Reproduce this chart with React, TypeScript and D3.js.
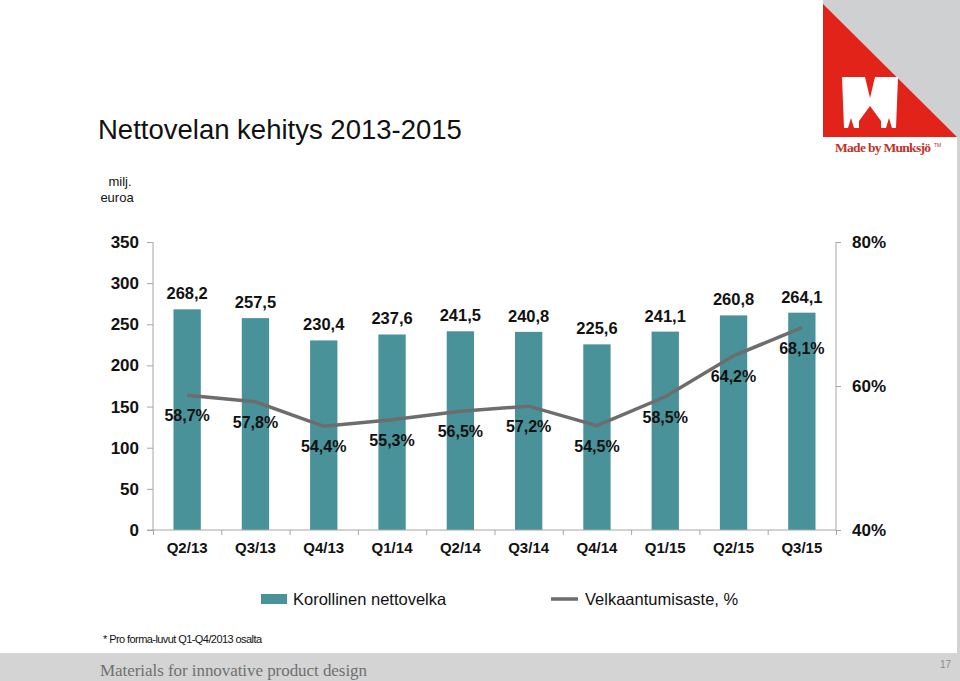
import React, { useEffect, useRef } from "react";
import * as d3 from "d3";

// quarters on the x-axis
const categories = ["Q2/13", "Q3/13", "Q4/13", "Q1/14", "Q2/14", "Q3/14", "Q4/14", "Q1/15", "Q2/15", "Q3/15"];
// Korollinen nettovelka, milj. euroa
const netDebt = [268.2, 257.5, 230.4, 237.6, 241.5, 240.8, 225.6, 241.1, 260.8, 264.1];
// Velkaantumisaste, %
const gearing = [58.7, 57.8, 54.4, 55.3, 56.5, 57.2, 54.5, 58.5, 64.2, 68.1];

const leftTicks = [0, 50, 100, 150, 200, 250, 300, 350];
const rightTicks = [40, 60, 80];

const fmt = (v: number) => v.toFixed(1).replace(".", ",");

export default function App() {
  const svgRef = useRef<SVGSVGElement>(null);

  useEffect(() => {
    if (!svgRef.current) return;
    const svg = d3.select(svgRef.current);
    svg.selectAll("*").remove();

    const width = 960;
    const height = 681;
    const left = 153;
    const right = 836;
    const top = 242;
    const bottom = 530;
    const font = "'Liberation Sans', Arial, sans-serif";
    const teal = "#4a9299";
    const lineGray = "#6d6d6d";
    const axisGray = "#a6a6a6";

    svg.attr("width", width).attr("height", height);

    svg.append("rect").attr("width", width).attr("height", height).style("fill", "#fff");

    // right edge strip and footer band
    svg.append("rect").attr("x", 957).attr("y", 0).attr("width", 3).attr("height", height).style("fill", "#d3d3d3");
    svg.append("rect").attr("x", 0).attr("y", 653).attr("width", width).attr("height", 28).style("fill", "#d4d4d4");
    svg
      .append("text")
      .attr("x", 100)
      .attr("y", 676)
      .attr("textLength", 267)
      .text("Materials for innovative product design")
      .style("font-family", "'Liberation Serif', 'DejaVu Serif', serif")
      .style("font-size", "17px")
      .style("fill", "#707070");
    svg
      .append("text")
      .attr("x", 951)
      .attr("y", 668)
      .attr("text-anchor", "end")
      .text("17")
      .style("font-family", font)
      .style("font-size", "10px")
      .style("fill", "#8a8a8a");

    // logo
    svg.append("rect").attr("x", 823).attr("y", 0).attr("width", 137).attr("height", 137).style("fill", "#cfd0d2");
    svg.append("path").attr("d", "M823,4 L823,137 L957,137 Z").style("fill", "#e2231a");
    svg.append("rect").attr("x", 823).attr("y", 137).attr("width", 134).attr("height", 24).style("fill", "#fff");
    svg
      .append("path")
      .attr(
        "d",
        "M842,77 L865,77 L870,98 L875,77 L898,77 L896,128 L881,128 L881,121 L870,106 L859,121 L859,128 L844,128 Z " +
          "M848,128 L851,118 L854,128 Z M886,128 L889,118 L892,128 Z"
      )
      .attr("fill-rule", "evenodd")
      .style("fill", "#fff");
    svg
      .append("text")
      .attr("x", 835)
      .attr("y", 152)
      .attr("textLength", 96)
      .text("Made by Munksjö")
      .style("font-family", "'Liberation Serif', 'DejaVu Serif', serif")
      .style("font-size", "13.5px")
      .style("font-weight", "bold")
      .style("fill", "#c0332b");
    svg
      .append("text")
      .attr("x", 934)
      .attr("y", 147)
      .text("TM")
      .style("font-family", font)
      .style("font-size", "5px")
      .style("fill", "#c0332b");

    // title
    svg
      .append("text")
      .attr("x", 98)
      .attr("y", 139)
      .text("Nettovelan kehitys 2013-2015")
      .style("font-family", font)
      .style("font-size", "27.5px")
      .style("fill", "#111");

    svg
      .append("text")
      .attr("text-anchor", "middle")
      .style("font-family", font)
      .style("font-size", "13px")
      .style("fill", "#111")
      .selectAll("tspan")
      .data(["milj.", "euroa"])
      .join("tspan")
      .attr("x", (d, i) => (i === 0 ? 120 : 117))
      .attr("y", (d, i) => 186 + i * 16)
      .text((d) => d);

    const x = d3.scaleBand<string>().domain(categories).range([left, right]).paddingInner(0.6).paddingOuter(0.3);
    const xEdge = d3.scaleLinear().domain([0, categories.length]).range([left, right]);
    const y = d3.scaleLinear().domain([0, 350]).range([bottom, top]);
    const y2 = d3.scaleLinear().domain([40, 80]).range([bottom, top]);

    // bars
    svg
      .append("g")
      .selectAll("rect")
      .data(netDebt)
      .join("rect")
      .attr("x", (d, i) => x(categories[i])!)
      .attr("y", (d) => y(d))
      .attr("width", x.bandwidth())
      .attr("height", (d) => bottom - y(d))
      .style("fill", teal);

    // axes
    const yAxis = svg
      .append("g")
      .attr("transform", `translate(${left},0)`)
      .call(d3.axisLeft(y).tickValues(leftTicks).tickSize(6).tickPadding(8).tickFormat((d) => String(d)));
    const y2Axis = svg
      .append("g")
      .attr("transform", `translate(${right},0)`)
      .call(d3.axisRight(y2).tickValues(rightTicks).tickSize(5).tickPadding(11).tickFormat((d) => `${d}%`));
    const xAxis = svg
      .append("g")
      .attr("transform", `translate(0,${bottom})`)
      .call(
        d3
          .axisBottom(xEdge)
          .tickValues(d3.range(0, categories.length + 1))
          .tickSize(5)
          .tickFormat(() => "")
      );
    [yAxis, y2Axis, xAxis].forEach((g) => {
      g.selectAll(".domain").attr("d", null);
      g.selectAll("line").style("stroke", axisGray);
    });
    svg.append("line").attr("x1", left).attr("x2", left).attr("y1", top).attr("y2", bottom).style("stroke", axisGray);
    svg.append("line").attr("x1", right).attr("x2", right).attr("y1", top).attr("y2", bottom).style("stroke", axisGray);
    svg.append("line").attr("x1", left - 6).attr("x2", right).attr("y1", bottom).attr("y2", bottom).style("stroke", axisGray);
    [yAxis, y2Axis].forEach((g) =>
      g
        .selectAll("text")
        .style("font-family", font)
        .style("font-size", "17px")
        .style("font-weight", "bold")
        .style("fill", "#111")
    );

    svg
      .append("g")
      .selectAll("text")
      .data(categories)
      .join("text")
      .attr("x", (d) => x(d)! + x.bandwidth() / 2)
      .attr("y", 553)
      .attr("text-anchor", "middle")
      .text((d) => d)
      .style("font-family", font)
      .style("font-size", "15px")
      .style("font-weight", "bold")
      .style("fill", "#111");

    // gearing line
    const line = d3
      .line<number>()
      .x((d, i) => x(categories[i])! + x.bandwidth() / 2)
      .y((d) => y2(d));
    svg
      .append("path")
      .datum(gearing)
      .attr("d", line)
      .style("fill", "none")
      .style("stroke", lineGray)
      .style("stroke-width", 3.5);

    // value labels
    svg
      .append("g")
      .selectAll("text")
      .data(netDebt)
      .join("text")
      .attr("x", (d, i) => x(categories[i])! + x.bandwidth() / 2)
      .attr("y", (d) => y(d) - 10)
      .attr("text-anchor", "middle")
      .text((d) => fmt(d))
      .style("font-family", font)
      .style("font-size", "16.5px")
      .style("font-weight", "bold")
      .style("fill", "#111");

    svg
      .append("g")
      .selectAll("text")
      .data(gearing)
      .join("text")
      .attr("x", (d, i) => x(categories[i])! + x.bandwidth() / 2)
      .attr("y", (d) => y2(d) + 26)
      .attr("text-anchor", "middle")
      .text((d) => `${fmt(d)}%`)
      .style("font-family", font)
      .style("font-size", "16px")
      .style("font-weight", "bold")
      .style("fill", "#111");

    // legend
    svg.append("rect").attr("x", 261).attr("y", 594).attr("width", 26).attr("height", 10).style("fill", teal);
    svg
      .append("text")
      .attr("x", 293)
      .attr("y", 605)
      .text("Korollinen nettovelka")
      .style("font-family", font)
      .style("font-size", "16.5px")
      .style("fill", "#111");
    svg
      .append("line")
      .attr("x1", 551)
      .attr("x2", 578)
      .attr("y1", 599)
      .attr("y2", 599)
      .style("stroke", lineGray)
      .style("stroke-width", 3.5);
    svg
      .append("text")
      .attr("x", 585)
      .attr("y", 605)
      .text("Velkaantumisaste, %")
      .style("font-family", font)
      .style("font-size", "16.5px")
      .style("fill", "#111");

    // footnote
    svg
      .append("text")
      .attr("x", 103)
      .attr("y", 643)
      .attr("textLength", 159)
      .text("* Pro forma-luvut Q1-Q4/2013 osalta")
      .style("font-family", font)
      .style("font-size", "11px")
      .style("fill", "#111");
  }, []);

  return <svg ref={svgRef} style={{ position: "absolute", left: 0, top: 0, display: "block" }} />;
}
